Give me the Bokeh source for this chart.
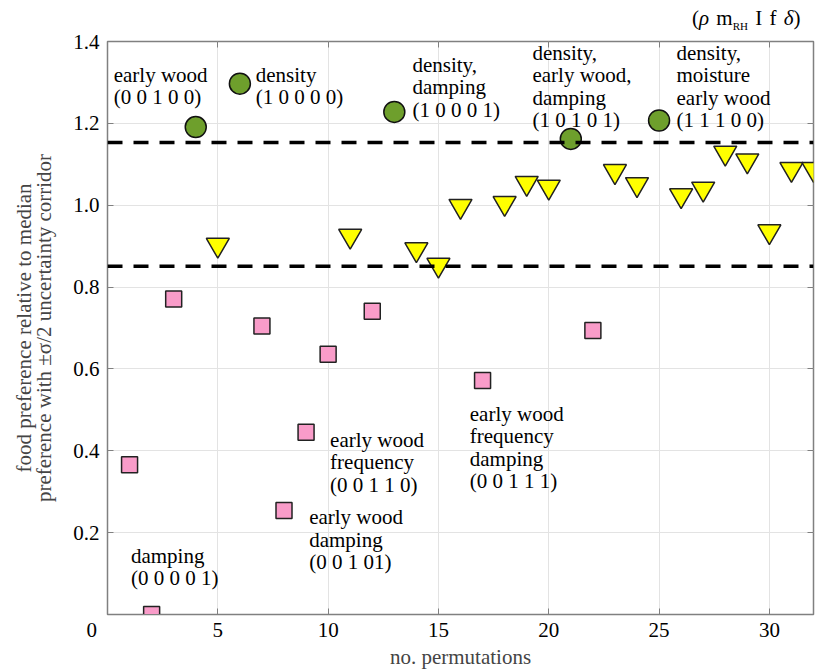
from bokeh.plotting import figure
from bokeh.layouts import column
from bokeh.models import Span, LinearAxis, FixedTicker, ColumnDataSource, Range1d, Div
from bokeh.embed import file_html
from bokeh.resources import INLINE
from bokeh.core.properties import value

# ---- data ----
x_green = [4, 6, 13, 21, 25]
y_green = [1.191, 1.297, 1.228, 1.162, 1.207]
x_pink = [1, 2, 3, 7, 8, 9, 10, 12, 17, 22]
y_pink = [0.366, 0.0, 0.771, 0.705, 0.254, 0.445, 0.636, 0.741, 0.572, 0.694]
x_yellow = [5, 11, 14, 15, 16, 18, 19, 20, 23, 24, 26, 27, 28, 29, 30, 31, 32]
y_yellow = [0.903, 0.925, 0.892, 0.854, 0.998, 1.005, 1.054, 1.045, 1.083, 1.051,
            1.024, 1.040, 1.128, 1.109, 0.936, 1.088, 1.088]
corridor = [0.851, 1.153]

x_ticks = [0, 5, 10, 15, 20, 25, 30]
x_tick_labels = ["0" + "\u00a0" * 6, "5", "10", "15", "20", "25", "30"]
y_ticks = [0.2, 0.4, 0.6, 0.8, 1.0, 1.2, 1.4]
y_tick_labels = ["0.2", "0.4", "0.6", "0.8", "1.0", "1.2", "1.4"]

ann_text = [
    "early wood\n(0 0 1 0 0)",
    "density\n(1 0 0 0 0)",
    "density,\ndamping\n(1 0 0 0 1)",
    "density,\nearly wood,\ndamping\n(1 0 1 0 1)",
    "density,\nmoisture\nearly wood\n(1 1 1 0 0)",
    "early wood\nfrequency\n(0 0 1 1 0)",
    "early wood\ndamping\n(0 0 1 01)",
    "early wood\nfrequency\ndamping\n(0 0 1 1 1)",
    "damping\n(0 0 0 0 1)",
]
ann_x = [0.28, 6.72, 13.82, 19.26, 25.79, 10.09, 9.14, 16.42, 1.06]
ann_y = [1.319, 1.319, 1.343, 1.372, 1.372, 0.427, 0.237, 0.491, 0.144]

FONT = "Liberation Serif, Times New Roman, DejaVu Serif, serif"
FS = "21px"
GRAY = "#808080"

p = figure(width=818, height=641, output_backend="svg", toolbar_location=None,
           x_range=Range1d(0, 32), y_range=Range1d(0, 1.4),
           min_border_left=107, min_border_right=5, min_border_top=11, min_border_bottom=57)
p.background_fill_color = "white"
p.border_fill_color = "white"
p.outline_line_color = GRAY
p.outline_line_width = 1.5

for ax in (p.xaxis[0], p.yaxis[0]):
    ax.major_label_text_font = FONT
    ax.major_label_text_font_size = FS
    ax.major_label_text_color = "black"
    ax.axis_line_color = GRAY
    ax.major_tick_line_color = GRAY
    ax.major_tick_in = 6
    ax.major_tick_out = 0
    ax.minor_tick_line_color = None

p.xaxis.ticker = FixedTicker(ticks=x_ticks)
p.xaxis.major_label_overrides = {t: l for t, l in zip(x_ticks, x_tick_labels)}
p.yaxis.ticker = FixedTicker(ticks=y_ticks)
p.yaxis.major_label_overrides = {t: l for t, l in zip(y_ticks, y_tick_labels)}
p.xaxis.major_label_standoff = 3
p.yaxis.major_label_standoff = 8

p.xaxis.axis_label = "no. permutations"
p.xaxis.axis_label_text_font = FONT
p.xaxis.axis_label_text_font_size = FS
p.xaxis.axis_label_text_font_style = "normal"
p.xaxis.axis_label_standoff = 0

p.yaxis.axis_label = ("food preference relative to median\n"
                      "preference with \u00b1\u03c3/2 uncertainty corridor")
p.yaxis.axis_label_text_font = FONT
p.yaxis.axis_label_text_font_size = FS
p.yaxis.axis_label_text_font_style = "normal"
p.yaxis.axis_label_text_line_height = 0.86
p.yaxis.axis_label_standoff = 14

# box ticks on top/right (no labels)
top = LinearAxis(ticker=FixedTicker(ticks=x_ticks[1:]), major_label_text_font_size="1px",
                 major_label_text_color=None,
                 major_tick_in=6, major_tick_out=0, major_tick_line_color=GRAY,
                 axis_line_color=None, minor_tick_line_color=None, major_label_standoff=0)
right = LinearAxis(ticker=FixedTicker(ticks=y_ticks), major_label_text_font_size="1px",
                   major_label_text_color=None,
                   major_tick_in=6, major_tick_out=0, major_tick_line_color=GRAY,
                   axis_line_color=None, minor_tick_line_color=None, major_label_standoff=0)
p.add_layout(top, "above")
p.add_layout(right, "right")

p.xgrid.ticker = FixedTicker(ticks=x_ticks[1:])
p.ygrid.ticker = FixedTicker(ticks=y_ticks)
p.grid.grid_line_color = "#e3e3e3"
p.grid.grid_line_width = 1

# markers
p.scatter(x_pink, y_pink, marker="square", size=16, fill_color="#f99cc9",
          line_color="#222222", line_width=1.5)
p.scatter(x_yellow, y_yellow, marker="inverted_triangle", size=23, fill_color="#ffff00",
          line_color="#222222", line_width=1.5)
p.scatter(x_green, y_green, marker="circle", size=21, fill_color="#6e9f2c",
          line_color="#111111", line_width=1.5)

for c in corridor:
    p.add_layout(Span(location=c, dimension="width", line_color="black",
                      line_width=3.5, line_dash="15 11"))

# annotations: one row per text line
rx, ry, rt, ro = [], [], [], []
for x, y, t in zip(ann_x, ann_y, ann_text):
    for i, line in enumerate(t.split("\n")):
        rx.append(x); ry.append(y); rt.append(line); ro.append(i * 22.5)
src = ColumnDataSource(dict(x=rx, y=ry, text=rt, yo=ro))
p.text(x="x", y="y", text="text", y_offset="yo", source=src,
       text_font=value(FONT), text_font_size=FS, text_align="left",
       text_baseline="middle", text_color="black")

# variable legend (ρ m_RH I f δ)
head = Div(text=(
    '<div style="font-family:\'Liberation Serif\',\'Times New Roman\',serif;font-size:21px;'
    'line-height:24px;white-space:nowrap;padding:6px 0 0 692px;color:black;word-spacing:2px;">'
    '(<i>\u03c1</i> m<span style="font-size:11px;vertical-align:-5px;">RH</span> I f <i>\u03b4</i>)'
    '</div>'), width=818, height=30, margin=0)

layout = column(head, p, spacing=0)
open("out.html", "w").write(file_html(layout, INLINE))
